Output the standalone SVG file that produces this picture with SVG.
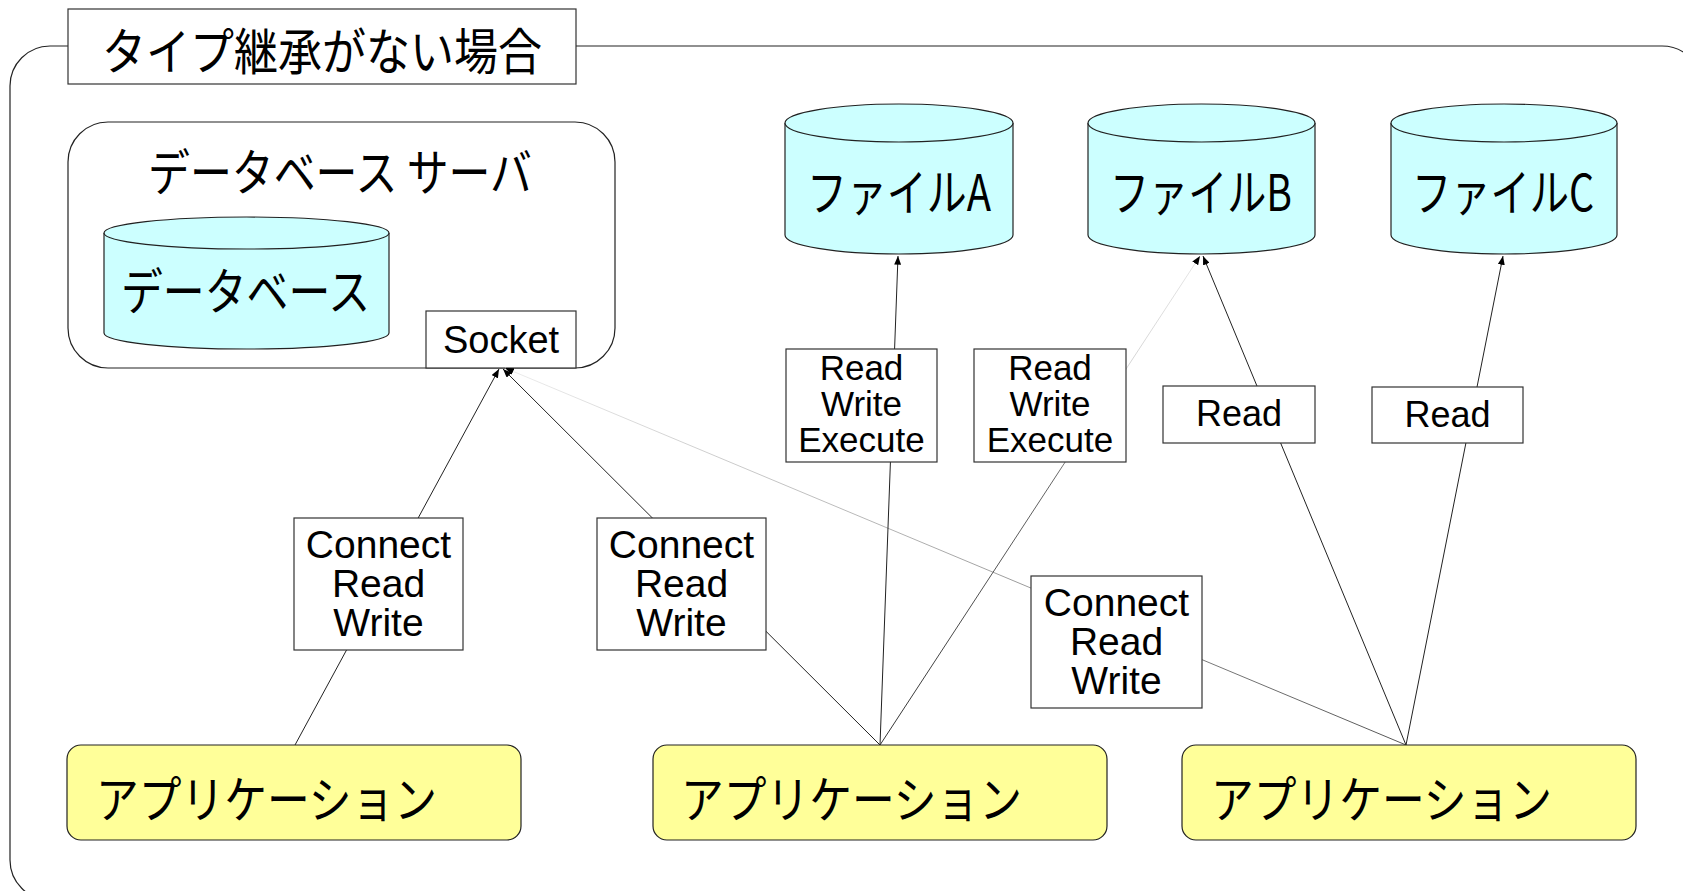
<svg xmlns="http://www.w3.org/2000/svg" width="1683" height="891" viewBox="0 0 1683 891">
  <defs>
    <style>
      .frame { fill: none; stroke: #222; stroke-width: 1.2; }
      .box { fill: #fff; stroke: #333; stroke-width: 1.2; }
      .cyl { fill: #ccffff; stroke: #222; stroke-width: 1.2; }
      .app { fill: #ffff99; stroke: #222; stroke-width: 1.2; }
      .jp { font-family: 'Noto Sans CJK JP', 'Noto Sans CJK SC', sans-serif; fill: #000; }
      .lat { font-family: 'Liberation Sans', Arial, sans-serif; fill: #000; text-anchor: middle; }
      .edge { fill: none; stroke: #222; stroke-width: 1; }
      .edge.fade-sock { stroke: url(#fadeSock); }
      .edge.fade-b { stroke: url(#fadeB); }
    </style>
    <marker id="arr" viewBox="0 0 10 8" refX="10" refY="4" markerWidth="9" markerHeight="7" markerUnits="userSpaceOnUse" orient="auto">
      <path d="M0,0 L10,4 L0,8 z" fill="#000"/>
    </marker>
    <linearGradient id="fadeSock" gradientUnits="userSpaceOnUse" x1="505" y1="368" x2="1406" y2="745">
      <stop offset="0" stop-color="#ededed"/>
      <stop offset="0.45" stop-color="#b0b0b0"/>
      <stop offset="1" stop-color="#555"/>
    </linearGradient>
    <linearGradient id="fadeB" gradientUnits="userSpaceOnUse" x1="1200" y1="256" x2="880" y2="745">
      <stop offset="0" stop-color="#e6e6e6"/>
      <stop offset="0.3" stop-color="#cfcfcf"/>
      <stop offset="0.45" stop-color="#666"/>
      <stop offset="1" stop-color="#333"/>
    </linearGradient>
  </defs>

  <rect width="1683" height="891" fill="#fff"/>

  <!-- outer frame with its heading -->
  <g id="frame">
    <rect class="frame" x="10" y="46" width="1692" height="854" rx="40"/>
    <rect class="box" x="68" y="9" width="508" height="75"/>
    <text class="jp" x="102" y="70" font-size="50" textLength="440" lengthAdjust="spacingAndGlyphs">タイプ継承がない場合</text>
  </g>

  <!-- database server -->
  <g id="db-server">
    <rect class="frame" x="68" y="122" width="547" height="246" rx="40"/>
    <text class="jp" x="148" y="191" font-size="50" textLength="384" lengthAdjust="spacingAndGlyphs">データベース サーバ</text>
  </g>

  <g id="database">
    <path class="cyl" d="M104,233 L104,333 A142.5,16 0 0 0 389,333 L389,233"/>
    <ellipse class="cyl" cx="246.5" cy="233" rx="142.5" ry="16"/>
    <text class="jp" x="121" y="310" font-size="50" textLength="249" lengthAdjust="spacingAndGlyphs">データベース</text>
  </g>

  <g id="socket">
    <rect class="box" x="426" y="311" width="150" height="57"/>
    <text class="lat" x="501" y="353" font-size="38">Socket</text>
  </g>

  <!-- files -->
  <g id="file-a">
    <path class="cyl" d="M785,123 L785,235 A114,19 0 0 0 1013,235 L1013,123"/>
    <ellipse class="cyl" cx="899" cy="123" rx="114" ry="19"/>
    <text class="jp" x="899" y="211" font-size="50" text-anchor="middle" textLength="184" lengthAdjust="spacingAndGlyphs">ファイルA</text>
  </g>
  <g id="file-b">
    <path class="cyl" d="M1088,123 L1088,235 A113.5,19 0 0 0 1315,235 L1315,123"/>
    <ellipse class="cyl" cx="1201.5" cy="123" rx="113.5" ry="19"/>
    <text class="jp" x="1201" y="211" font-size="50" text-anchor="middle" textLength="182" lengthAdjust="spacingAndGlyphs">ファイルB</text>
  </g>
  <g id="file-c">
    <path class="cyl" d="M1391,123 L1391,235 A113,19 0 0 0 1617,235 L1617,123"/>
    <ellipse class="cyl" cx="1504" cy="123" rx="113" ry="19"/>
    <text class="jp" x="1503" y="211" font-size="50" text-anchor="middle" textLength="182" lengthAdjust="spacingAndGlyphs">ファイルC</text>
  </g>

  <!-- connectors -->
  <g id="connectors">
    <line class="edge" x1="295" y1="745" x2="499" y2="369" marker-end="url(#arr)"/>
    <line class="edge" x1="880" y1="745" x2="503" y2="369" marker-end="url(#arr)"/>
    <line class="edge fade-sock" x1="1406" y1="745" x2="505" y2="368" marker-end="url(#arr)"/>
    <line class="edge" x1="880" y1="745" x2="898" y2="256" marker-end="url(#arr)"/>
    <line class="edge fade-b" x1="880" y1="745" x2="1200" y2="256" marker-end="url(#arr)"/>
    <line class="edge" x1="1406" y1="745" x2="1203" y2="256" marker-end="url(#arr)"/>
    <line class="edge" x1="1406" y1="745" x2="1503" y2="256" marker-end="url(#arr)"/>
  </g>

  <!-- permission labels -->
  <g id="perm-app1-socket">
    <rect class="box" x="294" y="518" width="169" height="132"/>
    <text class="lat" font-size="39"><tspan x="378.5" y="558">Connect</tspan><tspan x="378.5" y="597">Read</tspan><tspan x="378.5" y="636">Write</tspan></text>
  </g>
  <g id="perm-app2-socket">
    <rect class="box" x="597" y="518" width="169" height="132"/>
    <text class="lat" font-size="39"><tspan x="681.5" y="558">Connect</tspan><tspan x="681.5" y="597">Read</tspan><tspan x="681.5" y="636">Write</tspan></text>
  </g>
  <g id="perm-app3-socket">
    <rect class="box" x="1031" y="576" width="171" height="132"/>
    <text class="lat" font-size="39"><tspan x="1116.5" y="616">Connect</tspan><tspan x="1116.5" y="655">Read</tspan><tspan x="1116.5" y="694">Write</tspan></text>
  </g>
  <g id="perm-app2-file-a">
    <rect class="box" x="786" y="349" width="151" height="113"/>
    <text class="lat" font-size="35"><tspan x="861.5" y="380">Read</tspan><tspan x="861.5" y="416">Write</tspan><tspan x="861.5" y="452">Execute</tspan></text>
  </g>
  <g id="perm-app2-file-b">
    <rect class="box" x="974" y="349" width="152" height="113"/>
    <text class="lat" font-size="35"><tspan x="1050" y="380">Read</tspan><tspan x="1050" y="416">Write</tspan><tspan x="1050" y="452">Execute</tspan></text>
  </g>
  <g id="perm-app3-file-b">
    <rect class="box" x="1163" y="386" width="152" height="57"/>
    <text class="lat" x="1239" y="426" font-size="36">Read</text>
  </g>
  <g id="perm-app3-file-c">
    <rect class="box" x="1372" y="387" width="151" height="56"/>
    <text class="lat" x="1447.5" y="427" font-size="36">Read</text>
  </g>

  <!-- applications -->
  <g id="app-1">
    <rect class="app" x="67" y="745" width="454" height="95" rx="14"/>
    <text class="jp" x="96" y="818" font-size="50" textLength="341" lengthAdjust="spacingAndGlyphs">アプリケーション</text>
  </g>
  <g id="app-2">
    <rect class="app" x="653" y="745" width="454" height="95" rx="14"/>
    <text class="jp" x="681" y="818" font-size="50" textLength="341" lengthAdjust="spacingAndGlyphs">アプリケーション</text>
  </g>
  <g id="app-3">
    <rect class="app" x="1182" y="745" width="454" height="95" rx="14"/>
    <text class="jp" x="1211" y="818" font-size="50" textLength="341" lengthAdjust="spacingAndGlyphs">アプリケーション</text>
  </g>
</svg>
